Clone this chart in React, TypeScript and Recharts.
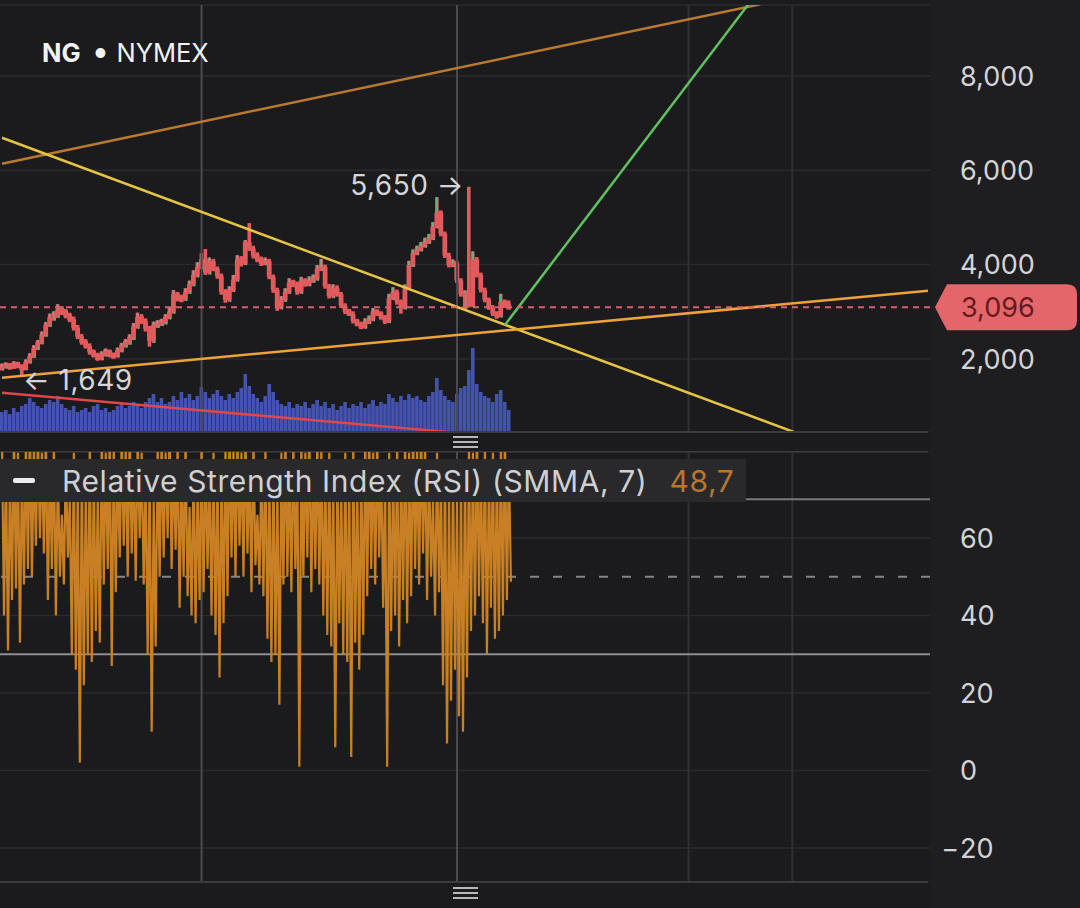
import React from 'react';
import { ComposedChart, Bar, Line, XAxis, YAxis, CartesianGrid, ReferenceLine, ReferenceDot } from 'recharts';

const FONT = 'Inter, "Noto Sans", sans-serif';
const BG = '#1b1b1e';
const AXIS_BG = '#1e1e21';
const GRID = '#2b2b2f';
const TEXT = '#d4d4d6';
const CANDLE_RED = '#e25a5c';
const CANDLE_GREEN = '#52bf98';
const VOL_BLUE = '#4453b0';
const RSI_ORANGE = '#c98024';

// [open, high, low, close]
const candles: number[][] = [
  [1800,1900,1760,1840],[1840,1920,1800,1880],[1880,1910,1770,1810],[1810,1950,1790,1900],[1900,1930,1800,1850],
  [1850,1880,1649,1790],[1790,1990,1760,1940],[1940,2120,1900,2060],[2060,2290,2020,2230],[2230,2400,2190,2350],
  [2350,2580,2310,2510],[2510,2780,2470,2720],[2720,2960,2680,2880],[2880,3010,2810,2920],[2920,3160,2870,3050],
  [3050,3120,2930,3000],[3000,3060,2860,2920],[2920,2980,2780,2840],[2840,2900,2600,2660],[2660,2720,2420,2470],
  [2470,2530,2300,2350],[2350,2420,2220,2270],[2270,2330,2090,2140],[2140,2200,2030,2080],[2080,2130,1960,2000],
  [2000,2160,1970,2100],[2100,2220,2050,2160],[2160,2200,2030,2080],[2080,2130,2010,2060],[2060,2240,2030,2180],
  [2180,2340,2140,2290],[2290,2420,2240,2350],[2350,2520,2300,2450],[2450,2760,2400,2680],[2680,2980,2640,2880],
  [2880,2950,2740,2800],[2800,2860,2580,2640],[2640,2700,2260,2390],[2390,2790,2340,2720],[2720,2820,2660,2740],
  [2740,2850,2700,2780],[2780,2950,2730,2880],[2880,3090,2840,3000],[3000,3460,2960,3370],[3370,3420,3220,3290],
  [3290,3360,3200,3270],[3270,3500,3230,3420],[3420,3660,3380,3580],[3580,3880,3540,3780],[3780,4050,3730,3950],
  [3950,4240,3900,4110],[4110,4330,3780,3830],[3830,4150,3790,4070],[4070,4120,3860,3910],[3910,3960,3700,3760],
  [3760,3810,3360,3420],[3420,3480,3190,3250],[3250,3540,3210,3460],[3460,3780,3420,3680],[3680,4200,3640,4110],
  [4110,4180,3960,4030],[4030,4520,3990,4480],[4480,4880,4290,4340],[4340,4400,4130,4190],[4190,4260,4050,4110],
  [4110,4170,3970,4030],[4030,4150,3990,4070],[4070,4120,3690,3740],[3740,3790,3400,3460],[3460,3510,3020,3090],
  [3090,3330,3050,3250],[3250,3500,3210,3420],[3420,3710,3380,3620],[3620,3680,3520,3580],[3580,3640,3360,3420],
  [3420,3740,3380,3660],[3660,3710,3530,3580],[3580,3750,3540,3660],[3660,3790,3620,3700],[3700,3990,3660,3910],
  [3910,4120,3870,3950],[3950,4000,3490,3540],[3540,3590,3280,3330],[3330,3580,3290,3500],[3500,3560,3320,3370],
  [3370,3420,3080,3130],[3130,3180,2950,3000],[3000,3060,2910,2960],[2960,3010,2750,2800],[2800,2850,2690,2740],
  [2740,2790,2630,2680],[2680,2860,2640,2780],[2780,2920,2740,2840],[2840,3080,2800,3000],[3000,3050,2910,2960],
  [2960,3010,2830,2880],[2880,2930,2740,2800],[2800,3380,2760,3290],[3290,3520,3250,3420],[3420,3470,3150,3210],
  [3210,3260,2960,3090],[3090,3580,3050,3500],[3500,4080,3460,3990],[3990,4320,3950,4240],[4240,4400,4200,4320],
  [4320,4480,4280,4400],[4400,4570,4360,4480],[4480,4650,4440,4560],[4560,4900,4520,4810],[4810,5430,4770,5100],
  [5100,5150,4600,4650],[4650,4700,4140,4190],[4190,4250,3940,3990],[3990,4110,3950,4030],[4030,4080,3610,3660],
  [3660,3710,3320,3370],[3370,3450,3060,3400],[3400,5650,3090,3130],[3130,4280,3100,4110],[4110,4160,3730,3780],
  [3780,3830,3410,3460],[3460,3510,3200,3250],[3250,3300,3040,3090],[3090,3140,2910,2960],[2960,3010,2850,2920],
  [2920,3380,2880,3210],[3210,3260,3080,3130],[3130,3240,3050,3096],
];

const volumes = [
  200,220,180,240,200,260,280,340,300,260,
  240,280,320,300,360,280,240,220,260,200,
  220,240,200,260,280,220,240,200,220,260,
  280,240,260,300,280,240,300,340,380,300,
  340,280,300,360,320,400,340,380,320,360,
  450,400,340,380,420,360,320,380,340,400,
  440,580,460,380,340,300,360,480,400,320,
  280,260,300,240,280,260,300,240,280,320,
  260,300,240,280,220,260,300,240,280,260,
  300,240,280,320,260,300,280,380,340,300,
  360,320,380,340,360,320,300,360,400,540,
  420,360,320,300,380,440,460,620,840,480,
  400,360,340,300,380,420,300,220,
];

const rsiValues = [
  84,40,80,31,78,44,86,47,82,33,
  79,48,85,52,88,50,83,58,86,60,
  82,56,87,44,80,52,84,40,78,50,
  66,48,80,55,70,30,82,26,76,2,
  80,22,74,30,84,28,78,36,72,33,
  86,48,82,52,88,27,84,46,80,55,
  86,58,83,50,87,56,80,49,85,60,
  82,48,76,30,80,10,70,32,84,50,
  86,55,82,60,88,52,80,57,84,42,
  78,50,85,45,68,40,80,38,74,44,
  84,46,80,52,76,40,82,35,78,24,
  80,38,84,45,88,55,83,50,86,58,
  82,50,87,56,80,46,85,53,66,48,
  79,45,83,34,76,28,80,30,74,17,
  82,48,86,50,80,46,84,52,78,1,
  85,50,82,55,88,46,80,52,86,48,
  83,40,78,35,82,32,76,6,80,38,
  74,30,82,28,78,3.5,84,33,76,26,
  80,35,85,45,88,52,82,48,86,55,
  80,42,76,1,82,36,78,40,84,32,
  80,44,86,38,82,45,87,52,83,48,
  88,56,84,44,80,50,70,40,82,46,
  76,22,80,7,74,18,78,26,70,14,
  76,10,80,24,84,36,82,40,86,45,
  80,38,84,30,78,42,82,34,80,36,
  84,40,86,44,80,48.7,
];

const priceTicks = [2000, 4000, 6000, 8000];
const rsiTicks = [-20, 0, 20, 40, 60];
const lastPrice = 3096;
const lastRsi = '48,7';
const swingHigh = { idx: 117, price: 5650, label: '5,650 →' };
const swingLow = { idx: 5, price: 1649, label: '← 1,649' };
const majorTimeIdx = [50, 114];
const minorTimeIdx = [172, 198];
const rsiUpper = 70;
const rsiMiddle = 50;
const rsiLower = 30;

const trendUpper = [{ x: 0, y: 6140 }, { x: 190, y: 9520 }];
const trendFalling = [{ x: 0, y: 6690 }, { x: 199, y: 430 }];
const trendSupport = [{ x: 0, y: 1602 }, { x: 232, y: 3446 }];
const trendTarget = [{ x: 126, y: 2720 }, { x: 187, y: 9520 }];
const trendVolume = [{ x: 0, y: 1280 }, { x: 113, y: 440 }];

const SLOTS = 233;
const PRICE_DOMAIN: [number, number] = [450, 9505];
const VOL_DOMAIN: [number, number] = [0, 4270];
const RSI_DOMAIN: [number, number] = [-28.77, 82.19];

const priceRows = Array.from({ length: SLOTS }, (_, i) => {
  const c = candles[i];
  if (!c) return { i };
  return { i, o: c[0], h: c[1], l: c[2], c: c[3], range: [c[2], c[1]], vol: volumes[i] };
});

const rsiRows = rsiValues.map((v, j) => ({ t: j / 2, rsi: v }));

const fmt = (v: number) => v.toLocaleString('en-US');

const CandleShape = (props: any) => {
  const { x, y, width, height, payload } = props;
  if (!payload || payload.o == null) return null;
  const top = Math.min(y, y + height);
  const bot = Math.max(y, y + height);
  const span = payload.h - payload.l || 1;
  const toPx = (v: number) => top + ((payload.h - v) / span) * (bot - top);
  const up = payload.c >= payload.o;
  const bTop = toPx(Math.max(payload.o, payload.c));
  const bBot = toPx(Math.min(payload.o, payload.c));
  const cx = x + width / 2;
  const minBody = 6;
  const bodyH = Math.max(minBody, bBot - bTop);
  const bodyY = bBot - bTop < minBody ? (bTop + bBot) / 2 - minBody / 2 : bTop;
  return (
    <g>
      <rect x={cx - 1.8} y={top} width={3.6} height={Math.max(1, bot - top)} fill={CANDLE_RED} />
      <rect x={cx - 2.4} y={bodyY} width={4.8} height={bodyH} fill={CANDLE_RED} />
      {up && bTop - top > 1 && (
        <rect x={cx - 0.7} y={top} width={1.4} height={bTop - top} fill={CANDLE_GREEN} />
      )}
      {up && bot - bBot > 1 && (
        <rect x={cx + 0.6} y={bBot} width={1.4} height={bot - bBot} fill={CANDLE_GREEN} />
      )}
    </g>
  );
};

const PriceTick = (props: any) => {
  const { x, y, payload } = props;
  return (
    <text x={x + 30} y={y} dy="0.36em" fill={TEXT} fontSize={27} fontFamily={FONT} textAnchor="start">
      {fmt(payload.value)}
    </text>
  );
};

const RsiTick = (props: any) => {
  const { x, y, payload } = props;
  const v = payload.value as number;
  return (
    <g>
      {v < 0 && (
        <text x={x + 29} y={y} dy="0.36em" fill={TEXT} fontSize={27} fontFamily={FONT} textAnchor="end">−</text>
      )}
      <text x={x + 30} y={y} dy="0.36em" fill={TEXT} fontSize={27} fontFamily={FONT} textAnchor="start">
        {Math.abs(v)}
      </text>
    </g>
  );
};

const PriceTag = (props: any) => {
  const vb = props.viewBox || {};
  const x0 = vb.x + vb.width + 5;
  const x1 = x0 + 142;
  const cy = vb.y;
  const d = `M${x0},${cy} L${x0 + 12},${cy - 23} L${x1 - 10},${cy - 23} Q${x1},${cy - 23} ${x1},${cy - 13} L${x1},${cy + 13} Q${x1},${cy + 23} ${x1 - 10},${cy + 23} L${x0 + 12},${cy + 23} Z`;
  return (
    <g>
      <path d={d} fill="#e4666b" />
      <text x={x0 + 26} y={cy} dy="0.36em" fill="#651a1e" fontSize={27} fontFamily={FONT}>
        {fmt(lastPrice)}
      </text>
    </g>
  );
};

const SwingLabel = (props: any) => {
  const vb = props.viewBox || {};
  const side = props.side;
  const cx = vb.x + (vb.width || 0) / 2;
  const cy = vb.y + (vb.height || 0) / 2;
  return (
    <text
      x={side === 'left' ? cx - 5 : cx + 1}
      y={cy + (props.dyPx || 0)}
      dy="0.36em"
      fill="#d6d6d8"
      fontSize={28}
      letterSpacing={0.5}
      fontFamily={FONT}
      textAnchor={side === 'left' ? 'end' : 'start'}
    >
      {props.text}
    </text>
  );
};

const trendLines = [
  { key: 'vol', seg: trendVolume, color: '#e0474b', w: 2.5 },
  { key: 'upper', seg: trendUpper, color: '#b97a2e', w: 2.5 },
  { key: 'falling', seg: trendFalling, color: '#e5c344', w: 2.5 },
  { key: 'support', seg: trendSupport, color: '#eea23a', w: 2.5 },
  { key: 'target', seg: trendTarget, color: '#5fc160', w: 2.5 },
];

const Handle = ({ top }: { top: number }) => (
  <div style={{ position: 'absolute', left: 453, top, width: 25 }}>
    {[0, 1, 2].map((k) => (
      <div key={k} style={{ height: 2, background: '#b8b8bb', marginBottom: 3 }} />
    ))}
  </div>
);

export default function App() {
  return (
    <div style={{ position: 'absolute', left: 0, top: 0, width: 1080, height: 908, background: BG, overflow: 'hidden', fontFamily: FONT }}>
      <div style={{ position: 'absolute', left: 930, top: 0, width: 150, height: 908, background: AXIS_BG }} />

      <div style={{ position: 'absolute', left: 0, top: 0 }}>
        <ComposedChart width={1080} height={432} data={priceRows} margin={{ top: 5, right: 0, bottom: 0, left: 0 }}>
          <CartesianGrid xAxisId="c" yAxisId="price" vertical={false} stroke={GRID} strokeWidth={1.5} />
          <XAxis xAxisId="c" dataKey="i" type="category" hide />
          <XAxis xAxisId="v" dataKey="i" type="category" hide />
          <YAxis
            yAxisId="price"
            orientation="right"
            width={150}
            domain={PRICE_DOMAIN}
            ticks={priceTicks}
            allowDataOverflow
            axisLine={false}
            tickLine={false}
            tickSize={0}
            tickMargin={0}
            tick={<PriceTick />}
          />
          <YAxis yAxisId="vol" hide domain={VOL_DOMAIN} allowDataOverflow />
          {majorTimeIdx.map((x) => (
            <ReferenceLine key={'M' + x} xAxisId="c" yAxisId="price" x={x} stroke="#4a4a4f" strokeWidth={2} />
          ))}
          {minorTimeIdx.map((x) => (
            <ReferenceLine key={'m' + x} xAxisId="c" yAxisId="price" x={x} stroke="#303034" strokeWidth={2} />
          ))}
          <Bar xAxisId="v" yAxisId="vol" dataKey="vol" fill={VOL_BLUE} barSize={4} isAnimationActive={false} />
          <Bar xAxisId="c" yAxisId="price" dataKey="range" barSize={4} shape={<CandleShape />} isAnimationActive={false} />
          {trendLines.map((t) => (
            <ReferenceLine
              key={t.key}
              xAxisId="c"
              yAxisId="price"
              segment={t.seg}
              stroke={t.color}
              strokeWidth={t.w}
              ifOverflow="hidden"
            />
          ))}
          <ReferenceLine
            xAxisId="c"
            yAxisId="price"
            y={lastPrice}
            stroke="#d9606b"
            strokeWidth={2}
            strokeDasharray="6 5"
            label={<PriceTag />}
          />
          <ReferenceDot
            xAxisId="c"
            yAxisId="price"
            x={swingHigh.idx}
            y={swingHigh.price}
            r={1}
            fill="none"
            stroke="none"
            label={<SwingLabel side="left" text={swingHigh.label} dyPx={-2} />}
          />
          <ReferenceDot
            xAxisId="c"
            yAxisId="price"
            x={swingLow.idx}
            y={swingLow.price}
            r={1}
            fill="none"
            stroke="none"
            label={<SwingLabel side="right" text={swingLow.label} dyPx={4} />}
          />
        </ComposedChart>
      </div>

      <div style={{ position: 'absolute', left: 0, top: 431, width: 928, height: 2, background: '#3b3b3f' }} />
      <div style={{ position: 'absolute', left: 0, top: 451, width: 928, height: 2, background: '#3b3b3f' }} />
      <Handle top={436} />

      <div style={{ position: 'absolute', left: 0, top: 452 }}>
        <ComposedChart width={1080} height={430} data={rsiRows} margin={{ top: 0, right: 0, bottom: 0, left: 0 }}>
          <CartesianGrid vertical={false} stroke={GRID} strokeWidth={1.5} />
          <XAxis type="number" dataKey="t" domain={[-0.5, 232.5]} hide allowDataOverflow />
          <YAxis
            orientation="right"
            width={150}
            domain={RSI_DOMAIN}
            ticks={rsiTicks}
            allowDataOverflow
            axisLine={false}
            tickLine={false}
            tickSize={0}
            tickMargin={0}
            tick={<RsiTick />}
          />
          {majorTimeIdx.map((x) => (
            <ReferenceLine key={'M' + x} x={x} stroke="#4a4a4f" strokeWidth={2} />
          ))}
          {minorTimeIdx.map((x) => (
            <ReferenceLine key={'m' + x} x={x} stroke="#303034" strokeWidth={2} />
          ))}
          <ReferenceLine y={rsiUpper} stroke="#77777c" strokeWidth={2} />
          <ReferenceLine y={rsiMiddle} stroke="#86868a" strokeWidth={2} strokeDasharray="9 14" />
          <ReferenceLine y={rsiLower} stroke="#8e8e92" strokeWidth={2} />
          <Line dataKey="rsi" stroke={RSI_ORANGE} strokeWidth={2.2} dot={false} isAnimationActive={false} />
        </ComposedChart>
      </div>

      <div style={{ position: 'absolute', left: 0, top: 881, width: 928, height: 2, background: '#3b3b3f' }} />
      <Handle top={887} />

      <div style={{ position: 'absolute', left: 42, top: 38, color: '#f2f2f2', fontSize: 25.5, lineHeight: '30px', whiteSpace: 'nowrap' }}>
        <span style={{ fontWeight: 700 }}>NG</span>
        <span style={{ fontSize: 13, margin: '0 10px 0 14px', position: 'relative', top: -4 }}>●</span>
        <span>NYMEX</span>
      </div>

      <div style={{ position: 'absolute', left: 0, top: 459, width: 746, height: 43, background: '#29292c', display: 'flex', alignItems: 'center', whiteSpace: 'nowrap' }}>
        <div style={{ width: 22, height: 5, borderRadius: 2, background: '#ececec', marginLeft: 13, marginRight: 27 }} />
        <span style={{ color: '#d0d0d2', fontSize: 30, letterSpacing: 0.6 }}>Relative Strength Index (RSI) (SMMA, 7)</span>
        <span style={{ color: '#b8762c', fontSize: 30, letterSpacing: 0.6, marginLeft: 22 }}>{lastRsi}</span>
      </div>
    </div>
  );
}
